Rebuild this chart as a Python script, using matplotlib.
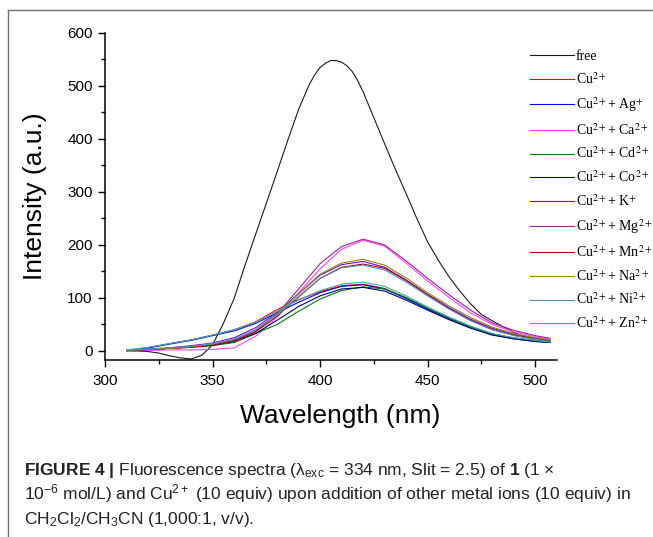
import matplotlib
matplotlib.use("Agg")
import matplotlib.pyplot as plt
from matplotlib import font_manager
from matplotlib.font_manager import FontProperties
from matplotlib.lines import Line2D
from matplotlib.ticker import MultipleLocator

# wavelength grids (nm)
free_wl = [310, 315, 320, 325, 330, 335, 340, 345, 350, 355, 360, 365, 370, 375,
           380, 385, 390, 395, 397.5, 400, 402.5, 405, 407.5, 410, 412.5, 415, 417.5,
           420, 425, 430, 435, 440, 445, 450, 455, 460, 465, 470, 475, 480, 485,
           490, 495, 500, 505, 507]
wl = [310, 320, 330, 340, 350, 360, 370, 380, 390, 400, 410, 420, 430, 440,
      450, 460, 470, 480, 490, 500, 507]

# intensities (a.u.)
free = [0, 0, -1, -4, -9, -13, -15, -8, 12, 52, 99, 161, 220, 279,
        338, 398, 456, 503, 521, 535, 543, 548, 548, 545, 538, 527, 510,
        489, 440, 391, 343, 297, 250, 206, 171, 140, 113, 89, 69, 57, 46,
        35, 27, 23, 19, 17]
cu = [1, 6, 14, 21, 30, 40, 55, 78, 97, 112, 123, 126, 118, 100, 80, 62, 46, 32, 25, 20, 17]
ag = [1, 6, 13, 20, 29, 38, 52, 72, 92, 110, 122, 125, 117, 99, 79, 61, 45, 32, 24, 19, 16]
ca = [0, 1, 2, 2, 3, 6, 28, 64, 110, 155, 192, 209, 198, 166, 132, 101, 72, 50, 36, 27, 22]
cd = [1, 3, 5, 7, 10, 16, 33, 50, 75, 98, 114, 121, 117, 101, 81, 62, 45, 31, 23, 18, 16]
co = [1, 3, 5, 8, 11, 18, 33, 58, 84, 104, 117, 120, 113, 96, 77, 59, 43, 30, 23, 18, 16]
k = [1, 3, 6, 10, 15, 25, 44, 73, 108, 143, 163, 169, 158, 134, 107, 82, 60, 43, 32, 24, 20]
mg = [1, 3, 5, 8, 12, 20, 37, 70, 117, 165, 197, 211, 200, 170, 137, 106, 77, 53, 39, 29, 24]
mn = [1, 3, 5, 7, 11, 19, 36, 66, 102, 137, 158, 164, 156, 133, 106, 80, 58, 41, 30, 23, 19]
na = [1, 3, 5, 8, 13, 22, 40, 70, 108, 145, 166, 173, 162, 138, 110, 85, 63, 45, 33, 25, 21]
ni = [2, 4, 6, 9, 14, 22, 40, 68, 103, 137, 157, 162, 153, 130, 104, 79, 57, 40, 29, 22, 18]
zn = [2, 7, 14, 21, 30, 40, 54, 75, 96, 114, 126, 130, 122, 104, 83, 64, 47, 33, 25, 20, 17]

labels = ["free", "Cu$^{2+}$", "Cu$^{2+}$+ Ag$^{+}$", "Cu$^{2+}$+ Ca$^{2+}$",
          "Cu$^{2+}$+ Cd$^{2+}$", "Cu$^{2+}$+ Co$^{2+}$", "Cu$^{2+}$+ K$^{+}$",
          "Cu$^{2+}$+ Mg$^{2+}$", "Cu$^{2+}$+ Mn$^{2+}$", "Cu$^{2+}$+ Na$^{2+}$",
          "Cu$^{2+}$+ Ni$^{2+}$", "Cu$^{2+}$+ Zn$^{2+}$"]
colors = ["#1a1a1a", "#ff0000", "#0000ff", "#ff40ff", "#008000", "#000080",
          "#8000ff", "#a020a0", "#b00000", "#8c8c00", "#4a90c8", "#3aafa9"]
curves = [free, cu, ag, ca, cd, co, k, mg, mn, na, ni, zn]

# caption font: narrow sans if available
names = {f.name for f in font_manager.fontManager.ttflist}
if "Liberation Sans Narrow" in names:
    cap_font, cap_size = "Liberation Sans Narrow", 14.5
else:
    cap_font, cap_size = "Liberation Sans", 12.5

plt.rcParams["font.family"] = ["Liberation Sans", "DejaVu Sans"]
plt.rcParams["mathtext.fontset"] = "custom"
plt.rcParams["mathtext.rm"] = cap_font
plt.rcParams["mathtext.it"] = cap_font + ":italic"
plt.rcParams["mathtext.bf"] = cap_font + ":bold"

fig = plt.figure(figsize=(6.53, 5.37), dpi=100)
ax = fig.add_axes([0.161, 0.3296, 0.692, 0.609])

for i, (y, c, lab) in enumerate(zip(curves, colors, labels)):
    x = free_wl if i == 0 else wl
    ax.plot(x, y, color=c, lw=0.8, label=lab)

ax.set_xlim(300, 510.2)
ax.set_ylim(-17, 600)
ax.xaxis.set_major_locator(MultipleLocator(50))
ax.xaxis.set_minor_locator(MultipleLocator(25))
ax.yaxis.set_major_locator(MultipleLocator(100))
ax.yaxis.set_minor_locator(MultipleLocator(50))
ax.spines["top"].set_visible(False)
ax.spines["right"].set_visible(False)
for s in ["left", "bottom"]:
    ax.spines[s].set_linewidth(1.1)
ax.tick_params(which="major", direction="out", length=5, width=1.0, labelsize=11, pad=4)
ax.tick_params(which="minor", direction="out", length=3, width=1.0)
ax.tick_params(axis="x", which="major", pad=5)
ax.set_xlabel("Wavelength (nm)", fontsize=19)
ax.set_ylabel("Intensity (a.u.)", fontsize=19)
ax.xaxis.set_label_coords(0.52, -0.135)
ax.yaxis.set_label_coords(-0.128, 0.5)

leg_prop = FontProperties(family="Liberation Serif", size=10, math_fontfamily="stix")
fig.legend(loc="upper left", bbox_to_anchor=(0.8116, 0.907), frameon=False,
           prop=leg_prop, handlelength=3.2, handletextpad=0.1, labelspacing=0.58,
           borderpad=0, borderaxespad=0)

# figure frame (top and left rules)
fig.add_artist(Line2D([8 / 653, 1], [1 - 10 / 537, 1 - 10 / 537], color="#707070", lw=1.0))
fig.add_artist(Line2D([8 / 653, 8 / 653], [0, 1 - 10 / 537], color="#707070", lw=1.0))

cap = [r"$\mathbf{FIGURE\ 4\ |}$ Fluorescence spectra (λ$_{\mathrm{exc}}$ = 334 nm, Slit = 2.5) of $\mathbf{1}$ (1 ×",
       r"10$^{-6}$ mol/L) and Cu$^{2+}$ (10 equiv) upon addition of other metal ions (10 equiv) in",
       r"CH$_2$Cl$_2$/CH$_3$CN (1,000:1, v/v)."]
for j, line in enumerate(cap):
    fig.text(24 / 653, 1 - (475 + 24.5 * j) / 537, line, family=cap_font,
             fontsize=cap_size, va="baseline", ha="left", color="#222222")

fig.savefig("out.png", dpi=100)
